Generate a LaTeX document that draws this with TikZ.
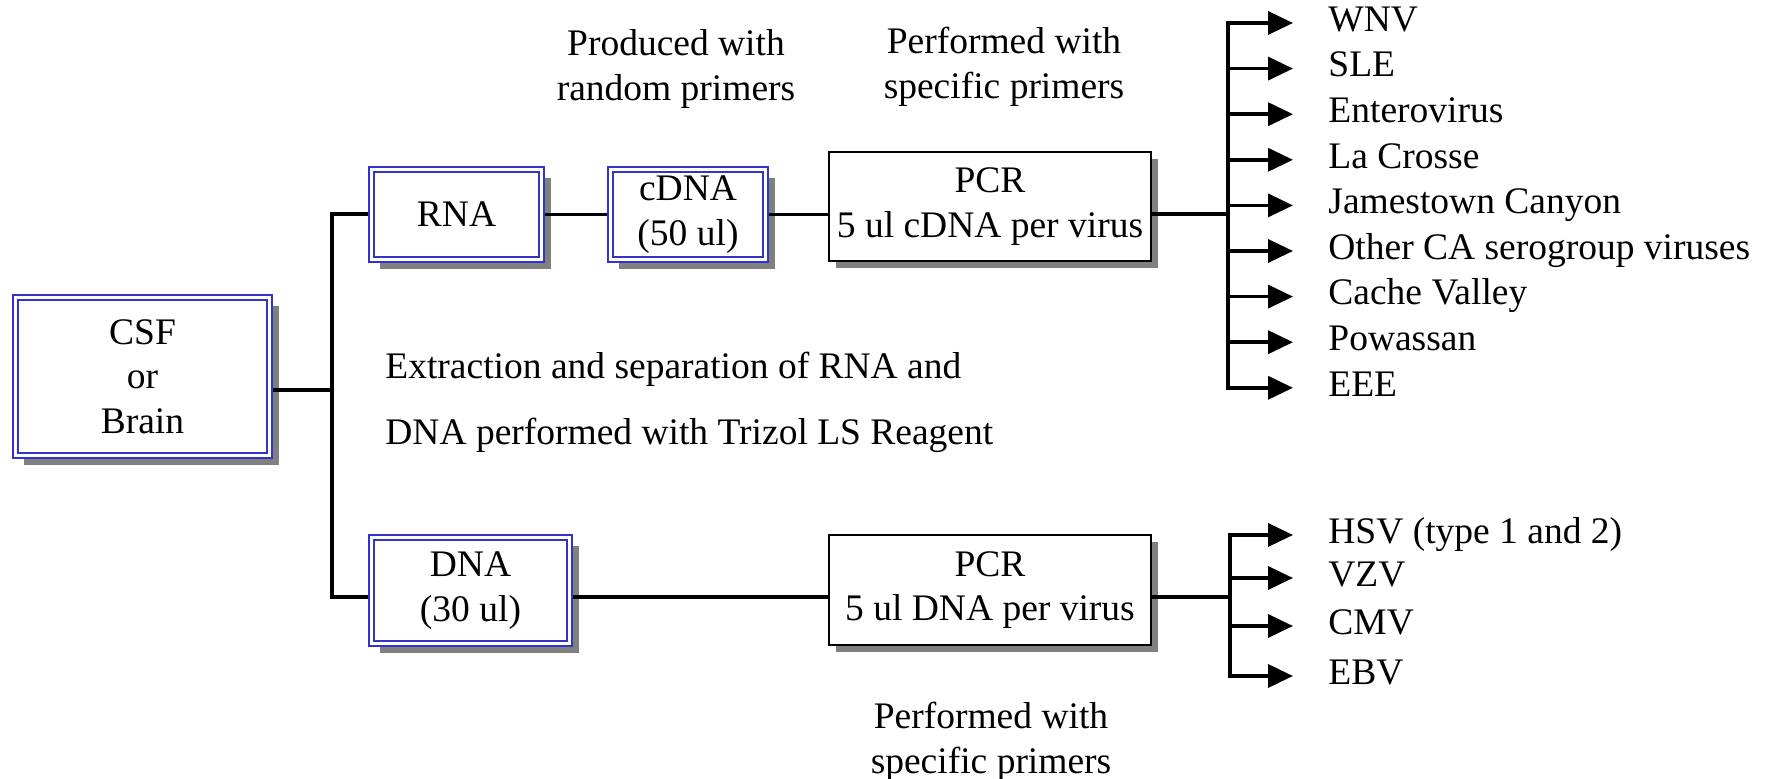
\documentclass[tikz,border=0pt]{standalone}
\usepackage{fontspec}
\setmainfont{Liberation Serif}
\usetikzlibrary{arrows.meta, shadows}

\definecolor{boxblue}{RGB}{51,51,204}

\tikzset{
    dbox/.style={draw=boxblue, double=white, double distance=1.4pt, line width=1pt,
        fill=white, align=center, inner sep=0pt, outer sep=1.7pt,
        drop shadow={shadow xshift=4.5pt, shadow yshift=-4.5pt, fill=black!50, opacity=1}},
    pbox/.style={draw=black, line width=1pt, fill=white, align=center, inner sep=0pt,
        minimum width=161pt,
        drop shadow={shadow xshift=3.5pt, shadow yshift=-3.5pt, fill=black!50, opacity=1}},
    link/.style={line width=1.8pt},
    trunk/.style={line width=1.8pt, line cap=rect},
    arr/.style={line width=1.8pt, -{Triangle[length=12.5pt,width=11.5pt]}, shorten >=17.5pt},
    virus/.style={anchor=west, inner sep=0pt, text height=13pt, text depth=4.7pt},
    note/.style={inner sep=0pt, align=center}
}

\begin{document}
\begin{tikzpicture}[x=0.5pt, y=-0.5pt, font=\fontsize{18.75}{22.25}\selectfont]
\useasboundingbox (0,0) rectangle (1765,779);

% Sample and extracted nucleic acids
\node[dbox, minimum width=127.1pt, minimum height=79.1pt] (csf) at (142.5,376.5) {CSF\\or\\Brain};
\node[dbox, minimum width=85.1pt, minimum height=45.1pt] (rna) at (456.5,214.5) {RNA};
\node[dbox, minimum width=77.6pt, minimum height=45.1pt] (cdna) at (688,214.5) {cDNA\\(50 ul)};
\node[dbox, minimum width=99.1pt, minimum height=53.1pt] (dna) at (470.5,590.5) {DNA\\(30 ul)};

% PCR boxes
\node[pbox, minimum height=54.5pt] (pcrA) at (990,206.5) {PCR\\5 ul cDNA per virus};
\node[pbox, minimum height=55pt] (pcrB) at (990,590) {PCR\\5 ul DNA per virus};

% Notes
\node[note] (prod) at (676,69) {Produced with\\random primers};
\node[note] (specA) at (1004,67) {Performed with\\specific primers};
\node[note] (specB) at (991,742) {Performed with\\specific primers};
\node[anchor=base west, inner sep=0pt] (extA) at (385,379) {Extraction and separation of RNA and};
\node[anchor=base west, inner sep=0pt] (extB) at (385,445) {DNA performed with Trizol LS Reagent};

% Junctions
\coordinate (jc) at (332,390);
\coordinate (jr) at (332,214);
\coordinate (jd) at (332,597);
\coordinate (ja) at (1228,214);
\coordinate (jb) at (1230,597);

% Connectors
\draw[link] (csf.east |- jc) -- (jc);
\draw[trunk] (jr) -- (jd);
\draw[link] (jr) -- (jr -| rna.west);
\draw[link] (rna.east) -- (cdna.west);
\draw[link] (cdna.east) -- (cdna.east -| pcrA.west);
\draw[link] (pcrA.east |- ja) -- (ja);
\draw[link] (jd) -- (jd -| dna.west);
\draw[link] (dna.east |- jd) -- (jd -| pcrB.west);
\draw[link] (pcrB.east |- jb) -- (jb);

% RNA viruses
\foreach \txt [count=\i] in {WNV, SLE, Enterovirus, La Crosse, Jamestown Canyon,
    Other CA serogroup viruses, Cache Valley, Powassan, EEE} {
    \node[virus] (va\i) at (1328,{23+45.6*(\i-1)}) {\txt};
    \draw[arr] (ja |- va\i.west) -- (va\i.west);
}
\draw[trunk] (ja |- va1.west) -- (ja |- va9.west);

% DNA viruses
\foreach \txt/\y [count=\i] in {HSV (type 1 and 2)/535, VZV/578, CMV/626, EBV/676} {
    \node[virus] (vb\i) at (1328,\y) {\txt};
    \draw[arr] (jb |- vb\i.west) -- (vb\i.west);
}
\draw[trunk] (jb |- vb1.west) -- (jb |- vb4.west);

\end{tikzpicture}
\end{document}
